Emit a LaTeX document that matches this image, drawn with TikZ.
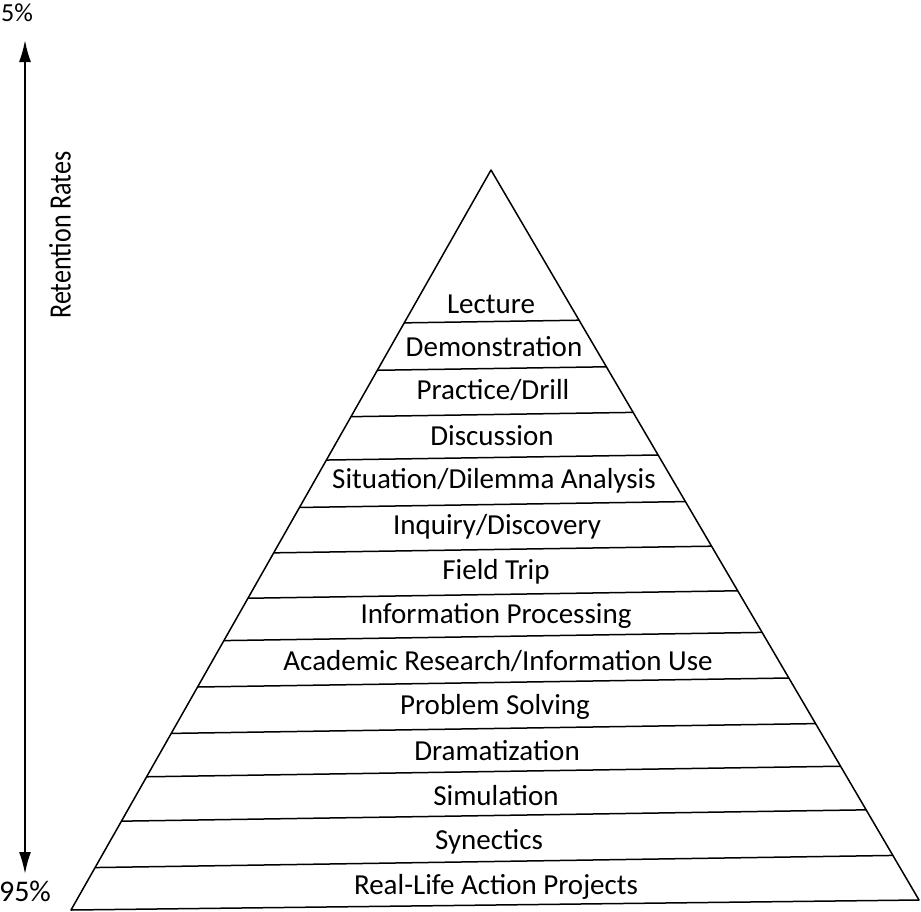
\documentclass[tikz,border=0pt]{standalone}
\usepackage{fontspec}
\setmainfont{Carlito}
\newfontfamily\narrowfont[FakeStretch=0.84]{Carlito}
\usetikzlibrary{arrows.meta}

\tikzset{
    band/.style={line width=1.5pt},
    level/.style={font=\fontsize{29}{33}\selectfont},
    axislabel/.style={font=\fontsize{26}{30}\selectfont}
}

\begin{document}
\begin{tikzpicture}[x=1pt, y=-1pt]
    \useasboundingbox (0,0) rectangle (921,911);

    % pyramid outline
    \coordinate (top) at (491,170);
    \coordinate (bl) at (71,910);
    \coordinate (br) at (919,900);
    \path[band, draw, line join=round] (top) -- (bl) -- (br) -- cycle;

    % horizontal bands, a little tilted like the hand drawing
    \begin{scope}
        \clip (top) -- (bl) -- (br) -- cycle;
        \path[band, draw] (0,329) -- (921,315);
        \path[band, draw] (0,376) -- (921,362);
        \path[band, draw] (0,422) -- (921,408);
        \path[band, draw] (0,465) -- (921,451);
        \path[band, draw] (0,512) -- (921,498);
        \path[band, draw] (0,557) -- (921,543);
        \path[band, draw] (0,602) -- (921,588);
        \path[band, draw] (0,644) -- (921,630);
        \path[band, draw] (0,690) -- (921,676);
        \path[band, draw] (0,736) -- (921,722);
        \path[band, draw] (0,779) -- (921,765);
        \path[band, draw] (0,823) -- (921,809);
        \path[band, draw] (0,869) -- (921,855);
    \end{scope}

    % levels
    \node[level] (lecture) at (491,304) {Lecture};
    \node[level] (demo) at (494,347) {Demonstration};
    \node[level] (drill) at (493,390) {Practice/Drill};
    \node[level] (discuss) at (492,436) {Discussion};
    \node[level] (dilemma) at (494,481) {Situation/Dilemma Analysis};
    \node[level] (inquiry) at (497,527) {Inquiry/Discovery};
    \node[level] (trip) at (496,572) {Field Trip};
    \node[level] (infoproc) at (496,616) {Information Processing};
    \node[level] (research) at (498,661) {Academic Research/Information Use};
    \node[level] (problem) at (495,707) {Problem Solving};
    \node[level] (drama) at (497,751) {Dramatization};
    \node[level] (simul) at (496,796) {Simulation};
    \node[level] (synect) at (489,842) {Synectics};
    \node[level] (project) at (496,887) {Real-Life Action Projects};

    % retention axis
    \node[axislabel] (low) at (17,13) {5\%};
    \node[axislabel, font=\fontsize{30}{32}\selectfont] (high) at (25,891) {95\%};
    \draw[line width=2pt, {Latex[length=22pt,width=12pt]}-{Latex[length=22pt,width=12pt]}]
        (25,40) coordinate (atop) -- (25,874) coordinate (abot);
    \node[rotate=90, font=\narrowfont\fontsize{31}{34}\selectfont] (rates) at (60,235) {Retention Rates};

\end{tikzpicture}
\end{document}
